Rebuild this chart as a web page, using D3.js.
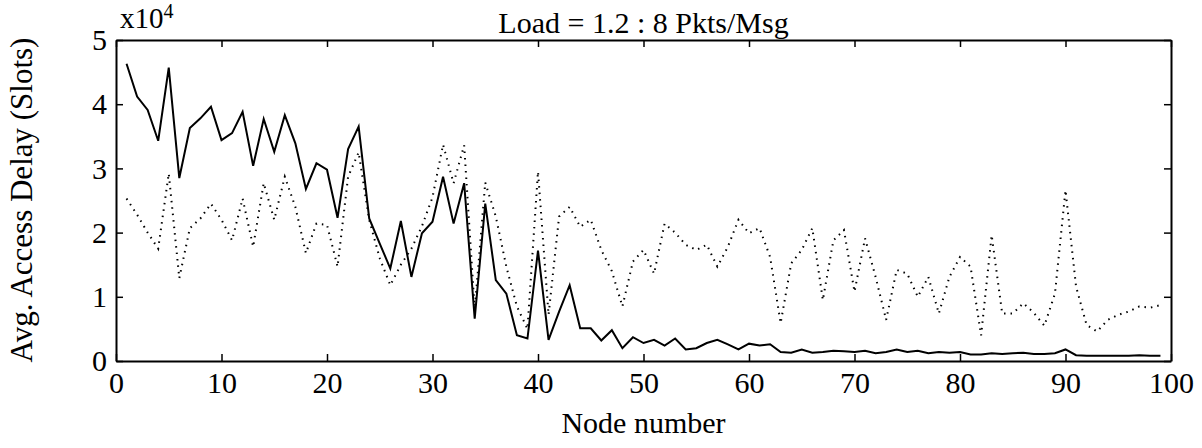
<!DOCTYPE html>
<html>
<head>
<meta charset="utf-8">
<title>Avg. Access Delay by Node</title>
<script src="https://cdn.jsdelivr.net/npm/d3@7"></script>
<style>
	body { margin: 0; background: #fff; }
	svg text { font-family: "Liberation Serif", "DejaVu Serif", serif; fill: #000; }
	.axis path, .axis line { stroke: #000; }
</style>
</head>
<body>
<div id="chart"></div>
<script>
	// node numbers on the x axis
	var nodes = d3.range(1, 100);

	// solid line, delay in units of 10^4 slots
	var solidDelay = [
		4.63, 4.12, 3.91, 3.43, 4.57, 2.85, 3.63, 3.78, 3.96, 3.44,
		3.55, 3.88, 3.04, 3.77, 3.26, 3.83, 3.39, 2.68, 3.08, 2.98,
		2.23, 3.30, 3.65, 2.22, 1.83, 1.44, 2.18, 1.31, 1.99, 2.17,
		2.87, 2.14, 2.77, 0.66, 2.45, 1.26, 1.05, 0.40, 0.35, 1.72,
		0.33, 0.77, 1.18, 0.51, 0.51, 0.32, 0.48, 0.20, 0.37, 0.28,
		0.33, 0.24, 0.35, 0.18, 0.20, 0.28, 0.33, 0.26, 0.18, 0.27,
		0.24, 0.26, 0.14, 0.13, 0.18, 0.13, 0.14, 0.16, 0.15, 0.14,
		0.16, 0.12, 0.14, 0.18, 0.14, 0.16, 0.12, 0.14, 0.13, 0.14,
		0.10, 0.10, 0.12, 0.11, 0.12, 0.13, 0.11, 0.11, 0.12, 0.18,
		0.09, 0.08, 0.08, 0.08, 0.08, 0.08, 0.09, 0.08, 0.08
	];

	// dotted line, same units
	var dottedDelay = [
		2.53, 2.28, 2.00, 1.75, 2.92, 1.29, 2.07, 2.22, 2.45, 2.20,
		1.88, 2.53, 1.78, 2.77, 2.20, 2.87, 2.40, 1.68, 2.14, 2.12,
		1.47, 2.87, 3.25, 2.20, 1.60, 1.18, 1.50, 1.75, 2.10, 2.55,
		3.37, 2.77, 3.36, 0.80, 2.78, 2.25, 1.47, 0.85, 0.50, 2.95,
		0.72, 2.25, 2.40, 2.09, 2.20, 1.73, 1.40, 0.85, 1.55, 1.73,
		1.36, 2.14, 2.00, 1.81, 1.73, 1.81, 1.47, 1.78, 2.20, 1.99,
		2.07, 1.62, 0.59, 1.52, 1.73, 2.07, 0.95, 1.88, 2.04, 1.08,
		1.91, 1.31, 0.64, 1.42, 1.36, 1.00, 1.31, 0.74, 1.31, 1.62,
		1.47, 0.40, 1.96, 0.74, 0.74, 0.90, 0.75, 0.55, 1.05, 2.66,
		1.16, 0.56, 0.46, 0.64, 0.72, 0.77, 0.85, 0.83, 0.87
	];

	var xTicks = d3.range(0, 101, 10);
	var yTicks = [0, 1, 2, 3, 4, 5];

	var width = 1202, height = 448;
	var margin = {top: 40, right: 31, bottom: 87, left: 116};
	var w = width - margin.left - margin.right;
	var h = height - margin.top - margin.bottom;
	var serif = '"Liberation Serif", "DejaVu Serif", serif';

	var svg = d3.select("#chart").append("svg")
		.attr("width", width)
		.attr("height", height);

	var g = svg.append("g")
		.attr("transform", "translate(" + margin.left + "," + margin.top + ")");

	var x = d3.scaleLinear().domain([0, 100]).range([0, w]);
	var y = d3.scaleLinear().domain([0, 5]).range([h, 0]);

	// lines first so the frame sits on top
	var line = d3.line()
		.x(function (d) { return x(d[0]); })
		.y(function (d) { return y(d[1]); });

	g.append("path")
		.datum(nodes.map(function (n, i) { return [n, dottedDelay[i]]; }))
		.attr("d", line)
		.attr("fill", "none")
		.attr("stroke", "#000")
		.attr("stroke-width", 2)
		.attr("stroke-dasharray", "1.5,5");

	g.append("path")
		.datum(nodes.map(function (n, i) { return [n, solidDelay[i]]; }))
		.attr("d", line)
		.attr("fill", "none")
		.attr("stroke", "#000")
		.attr("stroke-width", 2);

	// axes, matlab style: inward ticks on all four sides
	g.append("g").attr("class", "axis")
		.attr("transform", "translate(0," + h + ")")
		.call(d3.axisBottom(x).tickValues(xTicks).tickSize(-7).tickSizeOuter(0).tickPadding(11));
	g.append("g").attr("class", "axis")
		.call(d3.axisTop(x).tickValues(xTicks).tickSize(-7).tickSizeOuter(0).tickFormat(""));
	g.append("g").attr("class", "axis")
		.call(d3.axisLeft(y).tickValues(yTicks).tickFormat(d3.format("d")).tickSize(-7).tickSizeOuter(0).tickPadding(9));
	g.append("g").attr("class", "axis")
		.attr("transform", "translate(" + w + ",0)")
		.call(d3.axisRight(y).tickValues(yTicks).tickSize(-7).tickSizeOuter(0).tickFormat(""));

	g.selectAll(".axis").attr("font-family", serif).attr("font-size", 30);
	g.selectAll(".axis path").attr("stroke-width", 2);
	g.selectAll(".axis line").attr("stroke-width", 1.5);

	// exponent marker
	var ex = g.append("text")
		.attr("x", 4)
		.attr("y", -12)
		.style("font-size", "29px");
	ex.append("tspan").text("x10");
	ex.append("tspan").attr("dy", -10).style("font-size", "20px").text("4");

	// title
	g.append("text")
		.attr("x", w / 2)
		.attr("y", -7)
		.attr("text-anchor", "middle")
		.style("font-size", "30px")
		.text("Load = 1.2 : 8 Pkts/Msg");

	// axis labels
	g.append("text")
		.attr("x", w / 2)
		.attr("y", h + 72)
		.attr("text-anchor", "middle")
		.style("font-size", "30px")
		.text("Node number");

	g.append("text")
		.attr("transform", "translate(" + (-84) + "," + (200 - margin.top) + ") rotate(-90)")
		.attr("text-anchor", "middle")
		.style("font-size", "31px")
		.text("Avg. Access Delay (Slots)");
</script>
</body>
</html>
